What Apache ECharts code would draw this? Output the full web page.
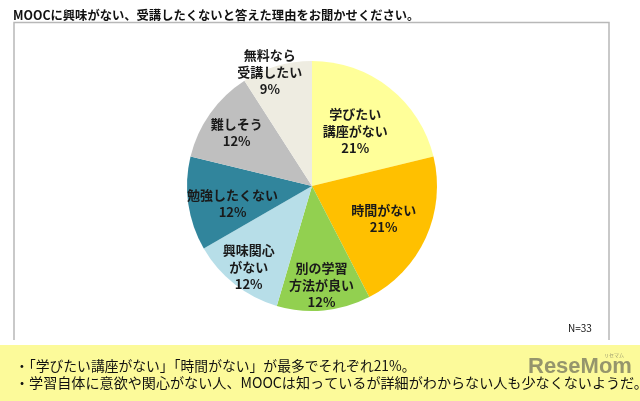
<!DOCTYPE html>
<html>
<head>
<meta charset="utf-8">
<script src="https://cdn.jsdelivr.net/npm/echarts@6/dist/echarts.min.js"></script>
<style>html,body{margin:0;padding:0;background:#fff;}#c{width:640px;height:401px;}</style>
</head>
<body>
<div id="c"></div>
<script>
var titleText = 'MOOCに興味がない、受講したくないと答えた理由をお聞かせください。';
var categories = ['学びたい\n講座がない', '時間がない', '別の学習\n方法が良い', '興味関心\nがない', '勉強したくない', '難しそう', '無料なら\n受講したい'];
var percents = [21, 21, 12, 12, 12, 12, 9];
var sampleNote = 'N=33';
var notes = ['・「学びたい講座がない」「時間がない」が最多でそれぞれ21%。', '・学習自体に意欲や関心がない人、MOOCは知っているが詳細がわからない人も少なくないようだ。'];

var colors = ['#FFFF99', '#FFC000', '#92D050', '#B7DEE8', '#31859C', '#BFBFBF', '#EEECE1'];
var labelRadial = [0.56, 0.63, 0.80, 0.82, 0.65, 0.74, 0.97];
var labelAngleShift = [0, 0, 0, 0, -4, 0, -4];
var CX = 312, CY = 186, R = 125;
var FONT = '"Noto Sans CJK JP", "Noto Sans CJK SC", sans-serif';

var total = percents.reduce(function (a, b) { return a + b; }, 0);
var midAngles = [];
(function () {
  var acc = 0;
  for (var i = 0; i < percents.length; i++) {
    midAngles.push((acc + percents[i] / 2) / total * 360);
    acc += percents[i];
  }
})();

var chart = echarts.init(document.getElementById('c'), null, { renderer: 'canvas' });
chart.setOption({
  animation: false,
  backgroundColor: '#ffffff',
  title: {
    text: titleText, left: 8, top: 4,
    textStyle: { fontFamily: FONT, fontSize: 12.3, fontWeight: 'bold', color: '#111' }
  },
  graphic: [
    { type: 'rect', shape: { x: 0, y: 345, width: 640, height: 56 }, style: { fill: '#FCFA9A' }, z: 0 },
    { type: 'polyline', shape: { points: [[14, 340], [14, 22.5], [609, 22.5], [609, 340]] }, style: { stroke: '#B8B8B8', lineWidth: 1.5, fill: null }, z: 0 },
    { type: 'text', left: 568, top: 323, style: { text: sampleNote, font: '10px ' + FONT, fill: '#111' } },
    { type: 'text', left: 15, top: 359, style: { text: notes[0], font: '13.8px ' + FONT, fill: '#111' } },
    { type: 'text', left: 15, top: 376, style: { text: notes[1], font: '14.1px ' + FONT, fill: '#111' } },
    { type: 'text', left: 528, top: 356, style: { text: 'ReseMom', font: 'bold 22px "Liberation Sans", sans-serif', fill: 'rgba(110,110,90,0.72)' }, z: 10 },
    { type: 'text', left: 604, top: 353, style: { text: 'リセマム', font: '5px ' + FONT, fill: 'rgba(110,110,90,0.7)' }, z: 10 }
  ],
  series: [{
    type: 'pie',
    center: [CX, CY],
    radius: [0, R],
    startAngle: 90,
    clockwise: true,
    color: colors,
    itemStyle: { borderWidth: 0 },
    label: {
      show: true,
      position: 'inner',
      fontFamily: FONT,
      fontSize: 13,
      fontWeight: 'bold',
      lineHeight: 17,
      color: '#1a1a1a',
      align: 'center',
      formatter: function (p) { return p.name + '\n' + p.value + '%'; }
    },
    labelLine: { show: false },
    labelLayout: function (params) {
      var i = params.dataIndex;
      var a = (midAngles[i] + labelAngleShift[i]) * Math.PI / 180;
      var tx = CX + labelRadial[i] * R * Math.sin(a);
      var ty = CY - labelRadial[i] * R * Math.cos(a);
      var r = params.labelRect;
      return { dx: tx - (r.x + r.width / 2), dy: ty - (r.y + r.height / 2) };
    },
    data: categories.map(function (c, i) { return { name: c, value: percents[i] }; })
  }]
});
</script>
</body>
</html>
